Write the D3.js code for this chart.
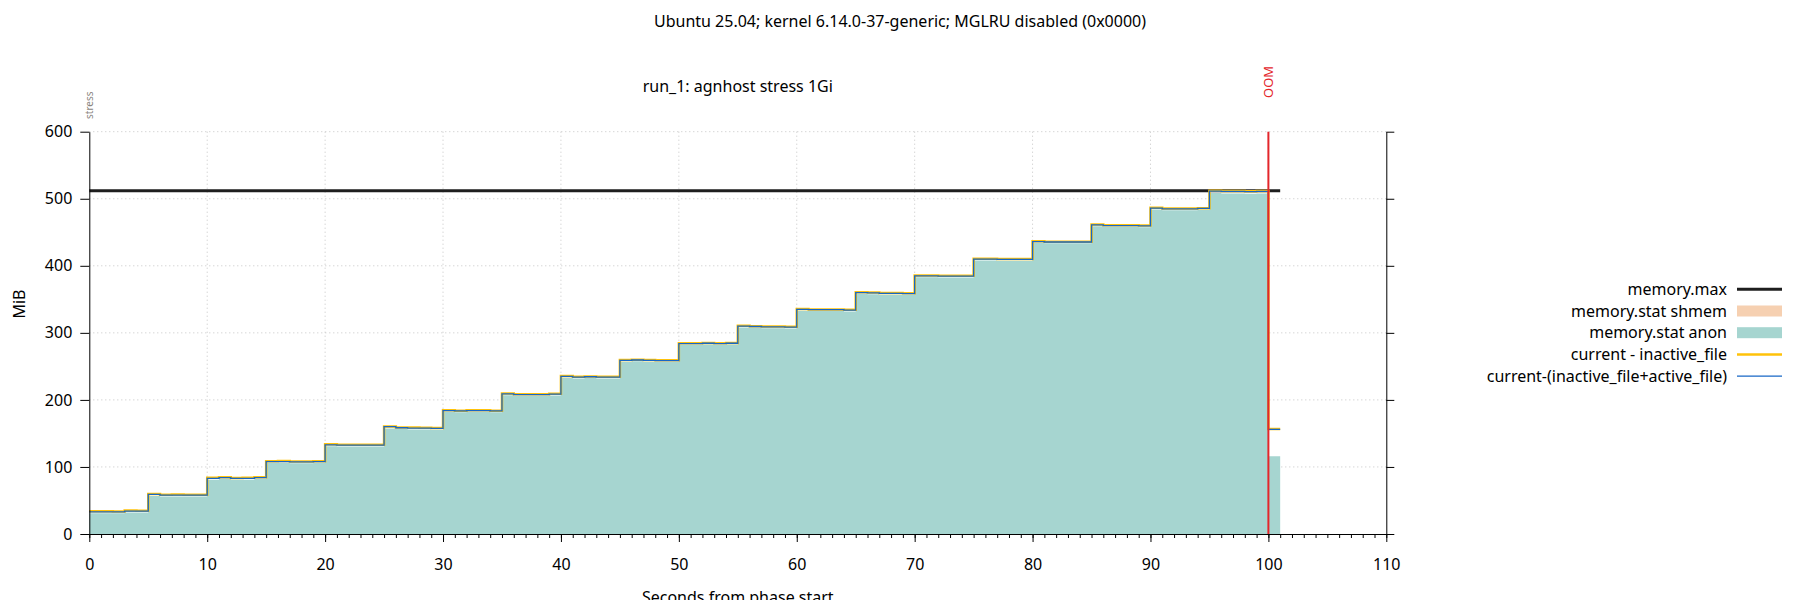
<!DOCTYPE html>
<html>
<head>
<meta charset="utf-8">
<script src="https://cdn.jsdelivr.net/npm/d3@7"></script>
<style>
  body { margin: 0; background: #fff; }
  svg { display: block; font-family: "Noto Sans", sans-serif; }
</style>
</head>
<body>
<section></section>
<script>
// seconds from phase start (one sample per second)
const times = [
  0, 1, 2, 3, 4, 5, 6, 7, 8, 9, 10, 11, 12, 13, 14, 15, 16, 17, 18, 19,
  20, 21, 22, 23, 24, 25, 26, 27, 28, 29, 30, 31, 32, 33, 34, 35, 36, 37, 38, 39,
  40, 41, 42, 43, 44, 45, 46, 47, 48, 49, 50, 51, 52, 53, 54, 55, 56, 57, 58, 59,
  60, 61, 62, 63, 64, 65, 66, 67, 68, 69, 70, 71, 72, 73, 74, 75, 76, 77, 78, 79,
  80, 81, 82, 83, 84, 85, 86, 87, 88, 89, 90, 91, 92, 93, 94, 95, 96, 97, 98, 99,
  100, 101
];

// MiB: current - (inactive_file + active_file)
const curMinusFiles = [
  33, 33, 33, 34, 34, 59, 58, 58, 58, 58,
  83, 84, 83, 83, 84, 108, 108, 107.5, 107.5, 108,
  133, 132.5, 132.5, 132.5, 132.5, 160, 158.5, 158, 158, 157.5,
  184, 183.5, 184, 184, 183.5, 209, 208, 208, 208, 208.5,
  235, 234, 234.5, 234, 234, 259, 259.5, 259, 258.5, 258.5,
  284, 284, 284.5, 284, 284.5, 310, 309.5, 309, 309, 308.5,
  335, 334.5, 334.5, 334.5, 334, 360, 359.5, 359, 359, 358.5,
  385, 385, 384.5, 384.5, 384.5, 410, 410, 409.5, 409.5, 409.5,
  436, 435.5, 435.5, 435.5, 435.5, 461, 460, 460, 460, 459.5,
  486, 485, 485, 485, 485.5, 511.5, 511, 511, 510.5, 511,
  156, 156
];

// MiB: current - inactive_file
const curMinusInactive = [
  34, 34, 33.5, 35, 34.5, 59.5, 58.5, 59, 58.5, 58.5,
  84, 84.5, 83.5, 84, 84.5, 108.5, 109, 108, 108, 108.5,
  134, 133, 133, 133, 133, 160.5, 159, 159, 158.5, 158,
  184.5, 184, 184.5, 184.5, 184, 209.5, 208.5, 208.5, 208.5, 209,
  235.5, 234.5, 235, 234.5, 234.5, 259.5, 260, 259.5, 259, 259,
  284.5, 284.5, 285, 284.5, 285, 310.5, 310, 309.5, 309.5, 309,
  335.5, 335, 335, 335, 334.5, 360.5, 360, 359.5, 359.5, 359,
  385.5, 385.5, 385, 385, 385, 410.5, 410.5, 410, 410, 410,
  436.5, 436, 436, 436, 436, 461.5, 460.5, 460.5, 460.5, 460,
  486.5, 485.5, 485.5, 485.5, 486, 512, 511.5, 511.5, 511, 511.5,
  156.5, 156.5
];

// MiB: memory.stat anon
const anon = [
  31, 31, 31, 32, 32, 56.5, 56, 56, 56, 56,
  81, 82, 81, 81, 82, 106, 106, 105.5, 105.5, 106,
  131, 130.5, 130.5, 130.5, 130.5, 157.5, 156.5, 156, 156, 155.5,
  182, 181.5, 182, 182, 181.5, 207, 206, 206, 206, 206.5,
  233, 232, 232.5, 232, 232, 257, 257.5, 257, 256.5, 256.5,
  282, 282, 282.5, 282, 282.5, 308, 307.5, 307, 307, 306.5,
  333, 332.5, 332.5, 332.5, 332, 358, 357.5, 357, 357, 356.5,
  383, 383, 382.5, 382.5, 382.5, 408, 408, 407.5, 407.5, 407.5,
  434, 433.5, 433.5, 433.5, 433.5, 459, 458, 458, 458, 457.5,
  484, 483, 483, 483, 483.5, 508.5, 508, 508, 507.5, 508,
  116, 116
];

// memory.max (MiB)
const memMaxTimes = [0, 101];
const memMaxValues = [512, 512];

// events
const eventTimes = [0, 100];
const eventLabels = ["stress", "OOM"];

const xTicks = [0, 10, 20, 30, 40, 50, 60, 70, 80, 90, 100, 110];
const yTicks = [0, 100, 200, 300, 400, 500, 600];

const legendLabels = [
  "memory.max",
  "memory.stat shmem",
  "memory.stat anon",
  "current - inactive_file",
  "current-(inactive_file+active_file)"
];

const width = 1800;
const height = 600;
const plotLeft = 89.3, plotRight = 1386.3, plotTop = 131.7, plotBottom = 534;
const fontSize = 16;

const colAnon = "#a6d5d0";
const colShmem = "#f6d0b1";
const colYellow = "#ffc20a";
const colBlue = "#1767c6";
const colRed = "#e3262b";

const x = d3.scaleLinear().domain([0, 110]).range([plotLeft, plotRight]);
const y = d3.scaleLinear().domain([0, 600]).range([plotBottom, plotTop]);

const svg = d3.select("section")
  .append("svg")
  .attr("width", width)
  .attr("height", height)
  .attr("viewBox", [0, 0, width, height]);

// titles
svg.append("text")
  .attr("x", width / 2).attr("y", 27)
  .attr("text-anchor", "middle")
  .attr("font-size", fontSize)
  .text("Ubuntu 25.04; kernel 6.14.0-37-generic; MGLRU disabled (0x0000)");

svg.append("text")
  .attr("x", (plotLeft + plotRight) / 2).attr("y", 92)
  .attr("text-anchor", "middle")
  .attr("font-size", fontSize)
  .text("run_1: agnhost stress 1Gi");

// grid
const grid = svg.append("g")
  .attr("stroke", "#c4c4c4")
  .attr("stroke-width", 1)
  .attr("stroke-dasharray", "1,3");

grid.selectAll("line.h")
  .data(yTicks.slice(1))
  .join("line")
  .attr("class", "h")
  .attr("x1", plotLeft).attr("x2", plotRight)
  .attr("y1", d => y(d)).attr("y2", d => y(d));

grid.selectAll("line.v")
  .data(xTicks.slice(1, -1))
  .join("line")
  .attr("class", "v")
  .attr("x1", d => x(d)).attr("x2", d => x(d))
  .attr("y1", plotTop).attr("y2", plotBottom);

const rows = times.map((t, i) => ({
  t,
  anon: anon[i],
  inact: curMinusInactive[i],
  files: curMinusFiles[i]
}));

// anon area
svg.append("path")
  .datum(rows)
  .attr("fill", colAnon)
  .attr("d", d3.area()
    .curve(d3.curveStepAfter)
    .x(d => x(d.t))
    .y0(y(0))
    .y1(d => y(d.anon)));

// memory.max
svg.append("path")
  .datum(memMaxTimes.map((t, i) => [t, memMaxValues[i]]))
  .attr("fill", "none")
  .attr("stroke", "#1e1e1e")
  .attr("stroke-width", 3)
  .attr("d", d3.line().x(d => x(d[0])).y(d => y(d[1])));

// current - inactive_file
svg.append("path")
  .datum(rows)
  .attr("fill", "none")
  .attr("stroke", colYellow)
  .attr("stroke-width", 2.5)
  .attr("d", d3.line().curve(d3.curveStepAfter).x(d => x(d.t)).y(d => y(d.inact)));

// current-(inactive_file+active_file)
svg.append("path")
  .datum(rows)
  .attr("fill", "none")
  .attr("stroke", colBlue)
  .attr("stroke-width", 1.3)
  .attr("d", d3.line().curve(d3.curveStepAfter).x(d => x(d.t)).y(d => y(d.files)));

// OOM line
svg.append("line")
  .attr("x1", x(eventTimes[1])).attr("x2", x(eventTimes[1]))
  .attr("y1", plotTop).attr("y2", plotBottom)
  .attr("stroke", colRed)
  .attr("stroke-width", 2);

// event labels
svg.append("text")
  .attr("transform", `translate(${x(eventTimes[0]) + 3.5},119) rotate(-90)`)
  .attr("font-size", 10)
  .attr("fill", "#8a8580")
  .text(eventLabels[0]);

svg.append("text")
  .attr("transform", `translate(${x(eventTimes[1]) + 4.5},98) rotate(-90)`)
  .attr("font-size", 13)
  .attr("fill", colRed)
  .text(eventLabels[1]);

// axes
const axisLeft = svg.append("g")
  .attr("transform", `translate(${plotLeft},0)`)
  .call(d3.axisLeft(y).tickValues(yTicks).tickSize(9).tickSizeOuter(0).tickPadding(8));

const axisRight = svg.append("g")
  .attr("transform", `translate(${plotRight},0)`)
  .call(d3.axisRight(y).tickValues(yTicks).tickSize(8).tickSizeOuter(0).tickFormat(""));

const axisMinor = svg.append("g")
  .attr("transform", `translate(0,${plotBottom})`)
  .call(d3.axisBottom(x).ticks(110).tickSize(4).tickSizeOuter(0).tickFormat(""));

const axisBottom = svg.append("g")
  .attr("transform", `translate(0,${plotBottom})`)
  .call(d3.axisBottom(x).tickValues(xTicks).tickSize(8).tickSizeOuter(0).tickPadding(17));

[axisLeft, axisRight, axisMinor, axisBottom].forEach(g => {
  g.attr("font-family", "Noto Sans, sans-serif").attr("font-size", fontSize);
  g.selectAll("text").attr("fill", "#000");
  g.selectAll("line, path").attr("stroke", "#000");
});

// axis titles
svg.append("text")
  .attr("transform", "translate(25,304) rotate(-90)")
  .attr("text-anchor", "middle")
  .attr("font-size", fontSize)
  .text("MiB");

svg.append("text")
  .attr("x", (plotLeft + plotRight) / 2).attr("y", 603)
  .attr("text-anchor", "middle")
  .attr("font-size", fontSize)
  .text("Seconds from phase start");

// legend
const legendY = [289.3, 311, 332.7, 354.4, 376.1];
const legend = svg.append("g").attr("font-size", fontSize);

legend.selectAll("text")
  .data(legendLabels)
  .join("text")
  .attr("x", 1727)
  .attr("y", (d, i) => legendY[i])
  .attr("dy", "0.35em")
  .attr("text-anchor", "end")
  .text(d => d);

const lx1 = 1737, lx2 = 1782;
legend.append("line")
  .attr("x1", lx1).attr("x2", lx2).attr("y1", legendY[0]).attr("y2", legendY[0])
  .attr("stroke", "#1e1e1e").attr("stroke-width", 3);
legend.append("rect")
  .attr("x", lx1).attr("y", legendY[1] - 5.5).attr("width", lx2 - lx1).attr("height", 11)
  .attr("fill", colShmem);
legend.append("rect")
  .attr("x", lx1).attr("y", legendY[2] - 5.5).attr("width", lx2 - lx1).attr("height", 11)
  .attr("fill", colAnon);
legend.append("line")
  .attr("x1", lx1).attr("x2", lx2).attr("y1", legendY[3]).attr("y2", legendY[3])
  .attr("stroke", colYellow).attr("stroke-width", 2.5);
legend.append("line")
  .attr("x1", lx1).attr("x2", lx2).attr("y1", legendY[4]).attr("y2", legendY[4])
  .attr("stroke", colBlue).attr("stroke-width", 1.3);
</script>
</body>
</html>
